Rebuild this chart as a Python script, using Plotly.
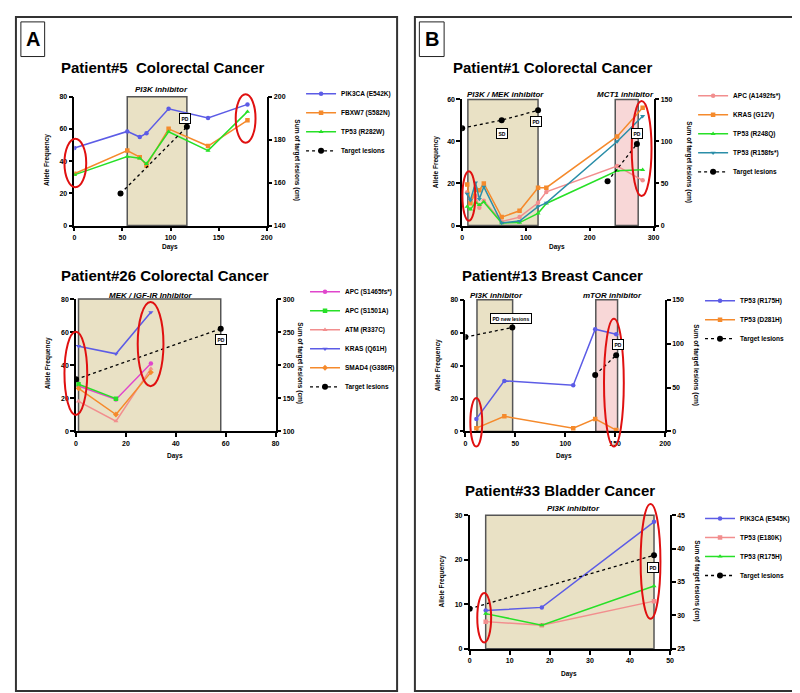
import plotly.graph_objects as go

# ---------------- DATA ----------------
# Patient #5 Colorectal Cancer
p5_days = [0, 55, 68, 75, 98, 139, 180]
p5_pik3ca = [48.2, 58.5, 55.0, 57.4, 72.6, 66.9, 75.3]
p5_fbxw7 = [32.2, 46.6, 42.5, 37.3, 60.1, 49.4, 65.4]
p5_tp53 = [31.5, 42.9, 41.8, 38.4, 58.3, 46.6, 70.8]
p5_lesion_days = [48, 117]
p5_lesions = [154.9, 186.0]
p5_treat = [55, 117]

# Patient #26 Colorectal Cancer
p26_days = [1, 16, 30]
p26_apc1 = [27.5, 19.3, 41.1]
p26_apc2 = [28.5, 19.8, None]
p26_atm = [18.2, 6.2, 38.0]
p26_kras = [51.5, 46.9, 72.0]
p26_smad4 = [26.0, 10.2, 35.7]
p26_lesion_days = [0, 58]
p26_lesions = [178.8, 255.1]
p26_treat = [1, 58]

# Patient #1 Colorectal Cancer
p1_days = [8, 13, 21, 27, 34, 62, 90, 119, 132, 243, 283]
p1_apc = [15.8, 12.0, 14.0, 8.5, 11.8, 1.9, 4.0, 10.8, 16.0, 28.3, 21.5]
p1_kras = [19.5, 10.6, 17.0, 16.8, 20.0, 4.0, 7.0, 18.0, 18.0, 42.4, 56.0]
p1_tp53_r248q = [9.0, 7.7, 11.0, 9.8, 11.2, 1.2, 1.4, 5.8, 10.5, 26.0, 26.5]
p1_tp53_r158 = [15.0, 12.0, 20.4, 12.6, 18.4, 1.2, 2.1, 9.0, 10.8, 40.0, 52.0]
p1_lesion_days = [0, 62, 119, None, 228, 274]
p1_lesions = [115.8, 125.3, 137.0, None, 52.6, 97.0]
p1_treat1 = [9, 119]
p1_treat2 = [240, 276]

# Patient #13 Breast Cancer
p13_days = [11, 39, 108, 130, 151]
p13_r175h = [7.6, 30.7, 28.1, 62.1, 59.1]
p13_d281h = [2.0, 9.2, 2.0, 7.6, 0.8]
p13_lesion_days = [0, 47, None, 130, 151]
p13_lesions = [107.5, 118.4, None, 64.3, 86.8]
p13_treat1 = [11.6, 47.3]
p13_treat2 = [130.6, 152.4]

# Patient #33 Bladder Cancer
p33_days = [4, 18, 46]
p33_pik3ca = [8.6, 9.3, 28.5]
p33_e180k = [6.1, 5.3, 10.7]
p33_r175h = [7.9, 5.3, 14.1]
p33_lesion_days = [0, 46]
p33_lesions = [31.0, 39.0]
p33_treat = [4, 46]

# ---------------- STYLE ----------------
W, H = 800, 693
def px(x):
    return x / W
def py(y):
    return 1 - y / H

FONT = "Liberation Sans, Arial, sans-serif"
BLUE = "#5c5ce6"
ORANGE = "#f58a2c"
GREEN = "#27e027"
MAGENTA = "#e046cc"
SALMON = "#f28e8e"
TEAL = "#2b8ea8"
TAN = "#e9e1c5"
PINK = "#f8d7d7"
RED = "#e01010"

fig = go.Figure()

def series(x, y, name, color, symbol, xa, ya, leg, size=4.5):
    fig.add_trace(go.Scatter(
        x=x, y=y, name=name, mode="lines+markers",
        line=dict(color=color, width=1.5),
        marker=dict(color=color, size=size, symbol=symbol),
        xaxis=xa, yaxis=ya, legend=leg, connectgaps=False))

def lesions(x, y, xa, ya, leg):
    fig.add_trace(go.Scatter(
        x=x, y=y, name="Target lesions", mode="lines+markers",
        line=dict(color="black", width=1.3, dash="dot"),
        marker=dict(color="black", size=6, symbol="circle"),
        xaxis=xa, yaxis=ya, legend=leg, connectgaps=False))

# A1
series(p5_days, p5_pik3ca, "PIK3CA (E542K)", BLUE, "circle", "x", "y", "legend")
series(p5_days, p5_fbxw7, "FBXW7 (S582N)", ORANGE, "square", "x", "y", "legend")
series(p5_days, p5_tp53, "TP53 (R282W)", GREEN, "triangle-up", "x", "y", "legend")
lesions(p5_lesion_days, p5_lesions, "x", "y2", "legend")
# A2
series(p26_days, p26_apc1, "APC (S1465fs*)", MAGENTA, "circle", "x2", "y3", "legend2")
series(p26_days, p26_apc2, "APC (S1501A)", GREEN, "square", "x2", "y3", "legend2")
series(p26_days, p26_atm, "ATM (R337C)", SALMON, "triangle-up", "x2", "y3", "legend2")
series(p26_days, p26_kras, "KRAS (Q61H)", BLUE, "triangle-down", "x2", "y3", "legend2")
series(p26_days, p26_smad4, "SMAD4 (G386R)", ORANGE, "diamond", "x2", "y3", "legend2")
lesions(p26_lesion_days, p26_lesions, "x2", "y4", "legend2")
# B1
series(p1_days, p1_apc, "APC (A1492fs*)", SALMON, "circle", "x3", "y5", "legend3")
series(p1_days, p1_kras, "KRAS (G12V)", ORANGE, "square", "x3", "y5", "legend3")
series(p1_days, p1_tp53_r248q, "TP53 (R248Q)", GREEN, "triangle-up", "x3", "y5", "legend3")
series(p1_days, p1_tp53_r158, "TP53 (R158fs*)", TEAL, "triangle-down", "x3", "y5", "legend3")
lesions(p1_lesion_days, p1_lesions, "x3", "y6", "legend3")
# B2
series(p13_days, p13_r175h, "TP53 (R175H)", BLUE, "circle", "x4", "y7", "legend4")
series(p13_days, p13_d281h, "TP53 (D281H)", ORANGE, "square", "x4", "y7", "legend4")
lesions(p13_lesion_days, p13_lesions, "x4", "y8", "legend4")
# B3
series(p33_days, p33_pik3ca, "PIK3CA (E545K)", BLUE, "circle", "x5", "y9", "legend5")
series(p33_days, p33_e180k, "TP53 (E180K)", SALMON, "square", "x5", "y9", "legend5")
series(p33_days, p33_r175h, "TP53 (R175H)", GREEN, "triangle-up", "x5", "y9", "legend5")
lesions(p33_lesion_days, p33_lesions, "x5", "y10", "legend5")

# ---------------- AXES ----------------
tickfont = dict(family=FONT, size=7, color="black", weight="bold")
def axbase():
    return dict(showline=True, linecolor="black", linewidth=1.5, ticks="outside",
                ticklen=4, tickwidth=1.5, tickcolor="black", showgrid=False,
                zeroline=False, tickfont=tickfont, fixedrange=True)

# (x0, x1, ytop, ybottom) in pixels, xrange, dtick, yrange, dtick, y2range, dtick
panels = [
    ((65, 259.3, 85.7, 215.7), (0, 200), 50, (0, 80), 20, (140, 200), 20),
    ((66.7, 268.3, 290, 423.7), (0, 80), 20, (0, 80), 20, (100, 300), 50),
    ((456.7, 650, 88.3, 215.7), (0, 300), 100, (0, 60), 20, (0, 150), 50),
    ((460, 661.7, 290.7, 423.7), (0, 200), 50, (0, 80), 20, (0, 150), 50),
    ((464.3, 666.7, 508.3, 643.3), (0, 50), 10, (0, 30), 10, (25, 45), 5),
]
lay = {}
for i, (box, xr, xd, yr, yd, y2r, y2d) in enumerate(panels):
    n = i + 1
    xk = "xaxis" if n == 1 else f"xaxis{n}"
    yl = 2 * n - 1
    yr_i = 2 * n
    ylk = "yaxis" if yl == 1 else f"yaxis{yl}"
    yrk = f"yaxis{yr_i}"
    xid = "x" if n == 1 else f"x{n}"
    ylid = "y" if yl == 1 else f"y{yl}"
    lay[xk] = dict(axbase(), domain=[px(box[0]), px(box[1])], range=list(xr),
                   dtick=xd, tick0=0, anchor=ylid)
    lay[ylk] = dict(axbase(), domain=[py(box[3]), py(box[2])], range=list(yr),
                    dtick=yd, tick0=yr[0], anchor=xid)
    lay[yrk] = dict(axbase(), range=list(y2r), dtick=y2d, tick0=y2r[0],
                    overlaying=ylid, side="right", anchor=xid)

# ---------------- SHAPES ----------------
shapes = []
# panel frames and letter boxes
shapes.append(dict(type="rect", xref="paper", yref="paper", x0=px(6), x1=px(391),
                   y0=py(686), y1=py(5), line=dict(color="#333", width=2)))
shapes.append(dict(type="rect", xref="paper", yref="paper", x0=px(409), x1=px(793),
                   y0=py(686), y1=py(5), line=dict(color="#333", width=2)))
for (a, b) in [(11, 35), (413.5, 438.5)]:
    shapes.append(dict(type="rect", xref="paper", yref="paper", x0=px(a), x1=px(b),
                       y0=py(45), y1=py(10), line=dict(color="#222", width=1)))

def treat(xr, xa, ya, color):
    shapes.append(dict(type="rect", xref=xa, yref=f"{ya} domain", x0=xr[0], x1=xr[1],
                       y0=0, y1=1, fillcolor=color, layer="below",
                       line=dict(color="#555", width=1.5)))

treat(p5_treat, "x", "y", TAN)
treat(p26_treat, "x2", "y3", TAN)
treat(p1_treat1, "x3", "y5", TAN)
treat(p1_treat2, "x3", "y5", PINK)
treat(p13_treat1, "x4", "y7", TAN)
treat(p13_treat2, "x4", "y7", PINK)
treat(p33_treat, "x5", "y9", TAN)

# red ellipses (pixel boxes)
ellipses = [(55, 77, 128, 177), (228, 248, 83, 132),
            (55, 78, 323, 407), (129, 155, 293, 378),
            (457, 470, 161, 211), (628, 648, 90, 186),
            (465, 477, 390, 439), (600, 620, 310, 439),
            (472, 486, 587, 637), (637, 657, 497, 613)]
for (a, b, c, d) in ellipses:
    shapes.append(dict(type="circle", xref="paper", yref="paper", x0=px(a), x1=px(b),
                       y0=py(d), y1=py(c), line=dict(color=RED, width=2)))

# ---------------- TEXT ----------------
ann = []
def text(t, x, y, size, angle=0, italic=False, bold=True):
    ann.append(dict(text=t, x=px(x), y=py(y), xref="paper", yref="paper",
                    showarrow=False, textangle=angle, xanchor="center", yanchor="middle",
                    font=dict(family=FONT, size=size, color="black",
                              weight="bold" if bold else "normal",
                              style="italic" if italic else "normal")))

text("A", 23, 27.5, 20)
text("B", 426, 27.5, 20)

titles = [("Patient#5  Colorectal Cancer", 155, 56),
          ("Patient#26 Colorectal Cancer", 156.5, 266),
          ("Patient#1 Colorectal Cancer", 547.5, 56),
          ("Patient#13 Breast Cancer", 548, 266),
          ("Patient#33 Bladder Cancer", 555.5, 483)]
for t, x, y in titles:
    text(t, x, y, 15)

treat_labels = [("PI3K inhibitor", 153, 78), ("MEK / IGF-IR Inhibitor", 142, 286),
                ("PI3K / MEK inhibitor", 500, 83.5), ("MCT1 inhibitor", 621.7, 83.5),
                ("PI3K inhibitor", 491, 286), ("mTOR inhibitor", 608.7, 286),
                ("PI3K inhibitor", 569, 502)]
for t, x, y in treat_labels:
    text(t, x, y, 8, italic=True)

for x, y in [(38, 150), (38.3, 355), (431, 152), (432.3, 357), (436.7, 575)]:
    text("Allele Frequency", x, y, 6.5, angle=-90)
for x, y in [(289, 150), (293, 355), (685, 152), (693, 357), (694, 575)]:
    text("Sum of target lesions (cm)", x, y, 6.5, angle=90)
for x, y in [(162, 237.5), (167, 449), (552.3, 237), (560, 448.5), (565, 668.5)]:
    text("Days", x, y, 6.5)

def box(t, x, y, xa, ya, dx, dy):
    ann.append(dict(text=t, x=x, y=y, xref=xa, yref=ya, showarrow=False,
                    xshift=dx, yshift=dy, bgcolor="white", bordercolor="black",
                    borderwidth=1, borderpad=1.5,
                    font=dict(family=FONT, size=5, color="black", weight="bold")))

box("PD", p5_lesion_days[1], p5_lesions[1], "x", "y2", -2, 8)
box("PD", p26_lesion_days[1], p26_lesions[1], "x2", "y4", 0, -11)
box("SD", p1_lesion_days[1], p1_lesions[1], "x3", "y6", 0, -13)
box("PD", p1_lesion_days[2], p1_lesions[2], "x3", "y6", -2, -11)
box("PD", p1_lesion_days[5], p1_lesions[5], "x3", "y6", 0, 10)
box("PD new lesions", p13_lesion_days[1], p13_lesions[1], "x4", "y8", -1, 9)
box("PD", p13_lesion_days[4], p13_lesions[4], "x4", "y8", 2, 11)
box("PD", p33_lesion_days[1], p33_lesions[1], "x5", "y10", -1, -12)

# ---------------- LEGENDS ----------------
legfont = dict(family=FONT, size=6.5, color="black", weight="bold")
def legend(x, ytop):
    return dict(x=px(x), y=py(ytop), xanchor="left", yanchor="top",
                bgcolor="rgba(0,0,0,0)", borderwidth=0, font=legfont,
                tracegroupgap=0)

lay["legend"] = legend(294, 68)
lay["legend2"] = legend(298, 268)
lay["legend3"] = legend(690, 70)
lay["legend4"] = legend(697, 277)
lay["legend5"] = legend(697, 497)

fig.update_layout(width=W, height=H, margin=dict(l=0, r=0, t=0, b=0),
                  paper_bgcolor="white", plot_bgcolor="rgba(0,0,0,0)",
                  showlegend=True, shapes=shapes, annotations=ann,
                  font=dict(family=FONT), **lay)

fig.write_html("out.html")
